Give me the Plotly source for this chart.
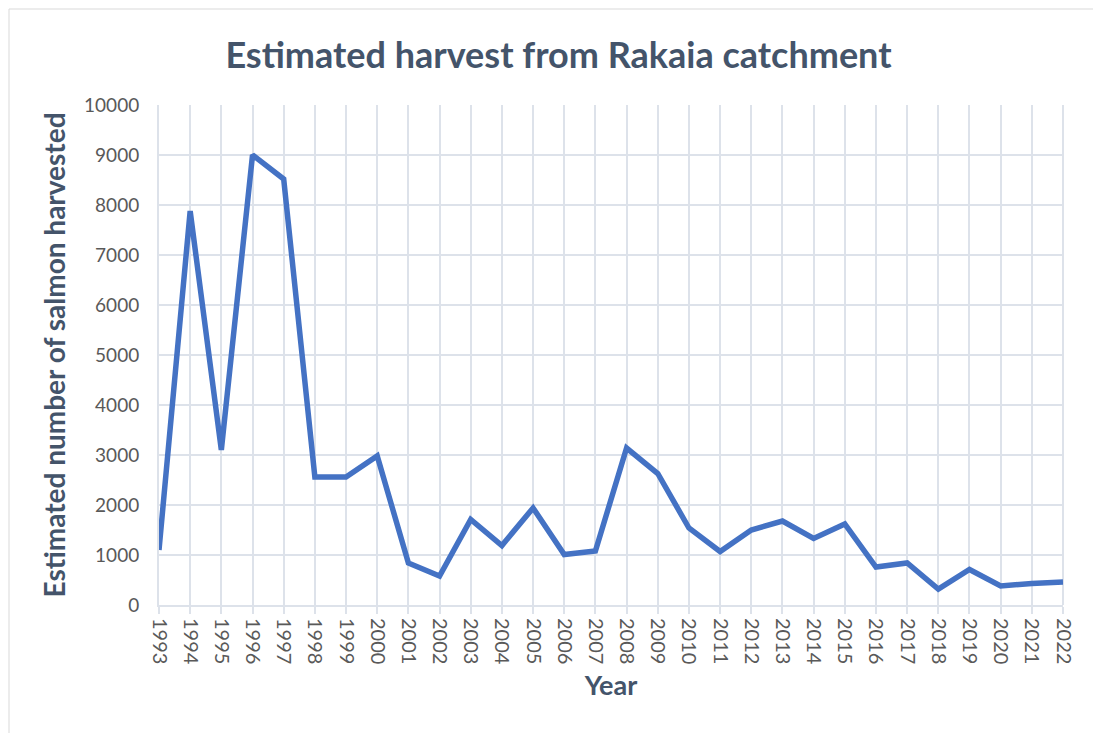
import plotly.graph_objects as go

years = [str(y) for y in range(1993, 2023)]
harvest = [1100, 7880, 3100, 9000, 8520, 2560, 2560, 2980, 840, 580,
           1710, 1190, 1940, 1010, 1080, 3140, 2630, 1540, 1070, 1500,
           1680, 1330, 1620, 760, 840, 320, 710, 380, 430, 460]
y_ticks = list(range(0, 10001, 1000))
y_tick_labels = [str(v) for v in y_ticks]

title_text = "Estimated harvest from Rakaia catchment"
x_title = "Year"
y_title = "Estimated number of salmon harvested"

text_col = "#44546A"
tick_col = "#595959"
grid_col = "#DDE2EA"

# page body has an 8px default margin; compensate so the plot lands where the reference has it
L, R, T, B = 151, 46, 97, 136
W, H = 1101, 733
pw, ph = W - L - R, H - T - B

fig = go.Figure()
fig.add_trace(go.Scatter(x=years, y=harvest, mode="lines",
                         line=dict(color="#4472C4", width=5.5),
                         showlegend=False))

fig.update_layout(
    width=W, height=H,
    paper_bgcolor="white", plot_bgcolor="white",
    margin=dict(l=L, r=R, t=T, b=B),
    title=dict(text=title_text, x=0.5, xanchor="center", y=1 - 47 / H, yanchor="middle",
               font=dict(family="Lato", size=36, color=text_col, weight="bold")),
    font=dict(family="Lato", color=tick_col),
    shapes=[dict(type="rect", xref="paper", yref="paper",
                 x0=(1 - L) / pw, x1=(W + 20 - L) / pw, y0=-(B + 20) / ph, y1=(ph + T - 1) / ph,
                 line=dict(color="#D9D9D9", width=1), layer="below"),
            dict(type="line", xref="paper", yref="paper", x0=1, x1=1, y0=0, y1=1,
                 line=dict(color=grid_col, width=2), layer="below")],
)
fig.update_xaxes(
    type="category", tickangle=90, tickfont=dict(size=20, color=tick_col),
    showgrid=True, gridcolor=grid_col, gridwidth=2,
    showline=True, linecolor=grid_col, linewidth=2,
    ticks="outside", ticklen=7, tickcolor=grid_col, tickwidth=2,
    range=[0, len(years) - 1],
    title=dict(text=x_title, font=dict(size=27, color=text_col, weight="bold"), standoff=12),
)
fig.update_yaxes(
    range=[0, 10000], tickvals=y_ticks, ticktext=y_tick_labels,
    tickfont=dict(size=19, color=tick_col),
    showgrid=True, gridcolor=grid_col, gridwidth=2, zeroline=False,
    showline=True, linecolor=grid_col, linewidth=2, ticks="", ticklabelstandoff=14,
    title=dict(text=y_title, font=dict(size=28, color=text_col, weight="bold"), standoff=10),
)
fig.write_html("out.html")
